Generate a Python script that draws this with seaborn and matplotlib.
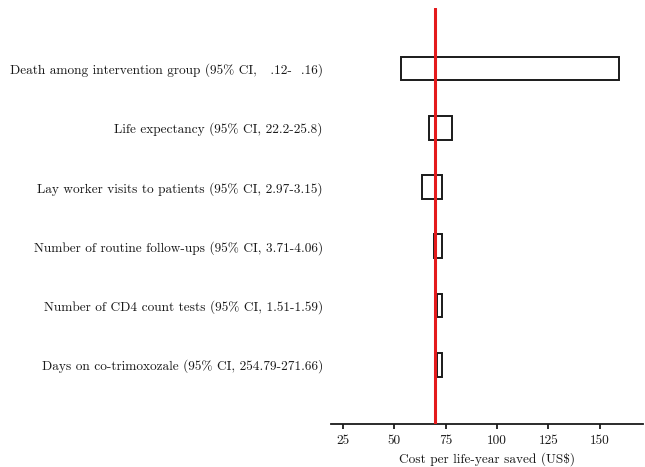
import matplotlib
matplotlib.use("Agg")
import matplotlib.pyplot as plt
import numpy as np
import seaborn as sns

# tornado diagram data (one-way sensitivity, cost per life-year saved)
labels = [
    "Death among intervention group (95% CI,   .12-  .16)",
    "Life expectancy (95% CI, 22.2-25.8)",
    "Lay worker visits to patients (95% CI, 2.97-3.15)",
    "Number of routine follow-ups (95% CI, 3.71-4.06)",
    "Number of CD4 count tests (95% CI, 1.51-1.59)",
    "Days on co-trimoxozale (95% CI, 254.79-271.66)",
]
low = [53.5, 66.7, 63.5, 69.5, 70.8, 70.8]
high = [159.3, 77.9, 73.4, 73.3, 73.2, 73.2]
base_case = 70.0
xticks = [25, 50, 75, 100, 125, 150]

sns.set_theme(style="white")
plt.rcParams["font.family"] = ["cmr10", "DejaVu Serif"]
plt.rcParams["axes.formatter.use_mathtext"] = True
plt.rcParams["axes.unicode_minus"] = False

fig = plt.figure(figsize=(6.45, 4.67), dpi=100)
ax = fig.add_axes([0.513, 0.092, 0.484, 0.891])

pos = np.arange(len(labels))
ax.barh(pos, np.array(high) - np.array(low), left=low, height=0.4,
        facecolor="white", edgecolor="#1a1a1a", linewidth=1.4, zorder=2)
ax.axvline(base_case, color="#e41a1c", linewidth=2.2, zorder=3)

ax.set_ylim(6.0, -1.02)
ax.set_xlim(19.2, 171)
ax.set_yticks(pos)
ax.set_yticklabels(labels, fontsize=9.6, color="#1a1a1a")
ax.set_xticks(xticks)
ax.set_xticklabels([str(t) for t in xticks], fontsize=9.6, color="#1a1a1a")
ax.set_xlabel("Cost per life-year saved (US$)", fontsize=9.6, color="#1a1a1a", labelpad=4)

sns.despine(ax=ax, left=True, top=True, right=True)
ax.spines["bottom"].set_linewidth(1.3)
ax.spines["bottom"].set_color("#1a1a1a")
ax.tick_params(axis="x", bottom=True, length=3.5, width=1.3, color="#1a1a1a", pad=4)
ax.tick_params(axis="y", left=False, length=0, pad=5.8)

fig.savefig("out.png", dpi=100)
